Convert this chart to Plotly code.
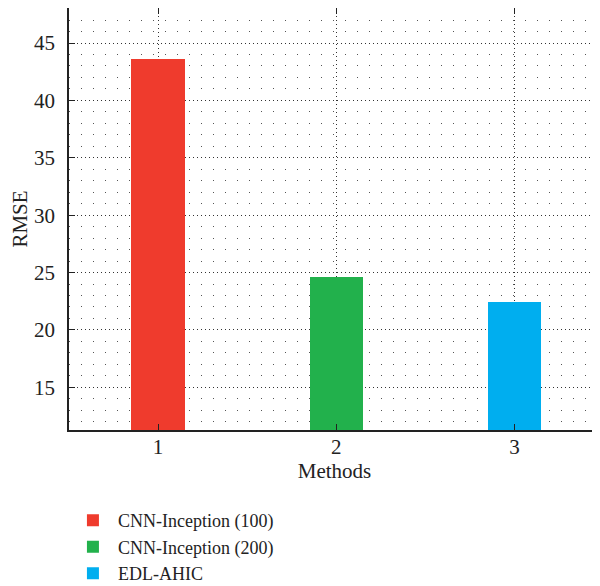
import plotly.graph_objects as go

methods = [1, 2, 3]
series_names = ["CNN-Inception (100)", "CNN-Inception (200)", "EDL-AHIC"]
rmse_values = [43.6, 24.6, 22.4]
colors = ["#EF3B2D", "#22B14C", "#00AEEF"]
y_ticks = [15, 20, 25, 30, 35, 40, 45]
x_ticks = [1, 2, 3]

FONT = "Liberation Serif"
FS = 21

fig = go.Figure()
for m, name, v, c in zip(methods, series_names, rmse_values, colors):
    fig.add_trace(go.Bar(x=[m], y=[v], name=name, width=0.3,
                         marker=dict(color=c, line=dict(width=0))))

fig.update_layout(
    width=592, height=578,
    margin=dict(l=61, r=0, t=0, b=156, autoexpand=False),
    paper_bgcolor="white", plot_bgcolor="white",
    font=dict(family=FONT, size=FS, color="#222"),
    showlegend=True,
    legend=dict(orientation="v", x=-0.002, y=-0.171, xanchor="left", yanchor="top",
                font=dict(family=FONT, size=18, color="#222"),
                itemwidth=40, tracegroupgap=0, bgcolor="rgba(0,0,0,0)"),
    bargap=0,
)

fig.update_xaxes(
    range=[0.5, 3.48], tickvals=x_ticks, ticktext=[str(t) for t in x_ticks],
    showline=True, linecolor="#222", linewidth=1.5, mirror="ticks",
    ticks="inside", ticklen=6, tickcolor="#222", tickwidth=1,
    showgrid=True, gridcolor="#333", gridwidth=1, griddash="1px,3px",
    zeroline=False, automargin=False, ticklabelstandoff=-3,
    title=dict(text="Methods", standoff=1, font=dict(family=FONT, size=FS)),
    tickfont=dict(family=FONT, size=FS),
)
fig.update_yaxes(
    range=[11.28, 48.05], tickvals=y_ticks, ticktext=[str(t) for t in y_ticks],
    showline=True, linecolor="#222", linewidth=1.5, mirror="ticks",
    ticks="inside", ticklen=6, tickcolor="#222", tickwidth=1,
    showgrid=True, gridcolor="#333", gridwidth=1, griddash="1px,3px",
    minor=dict(dtick=1, tick0=0, showgrid=True, gridcolor="#555", gridwidth=1,
               griddash="1px,11px", ticks=""),
    zeroline=False, ticklabelstandoff=8, automargin=False,
    title=dict(text="RMSE", standoff=12, font=dict(family=FONT, size=FS)),
    tickfont=dict(family=FONT, size=FS),
)

fig.write_html("out.html")
